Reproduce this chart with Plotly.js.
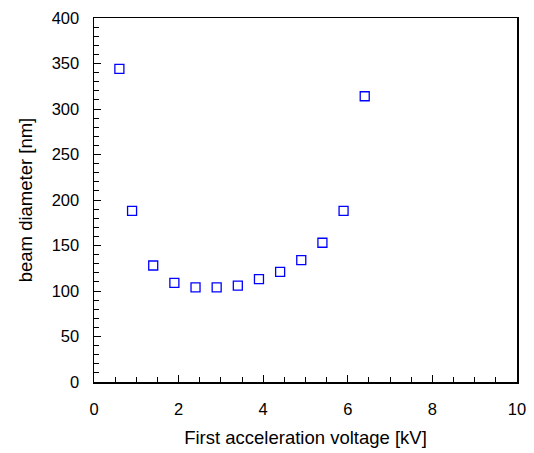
<!DOCTYPE html>
<html>
<head>
<meta charset="utf-8">
<script src="https://cdn.plot.ly/plotly-3.0.1.min.js"></script>
<style>html,body{margin:0;padding:0;background:#fff;}#chart{width:534px;height:453px;}</style>
</head>
<body>
<div id="chart"></div>
<script>
var voltage = [0.6, 0.9, 1.4, 1.9, 2.4, 2.9, 3.4, 3.9, 4.4, 4.9, 5.4, 5.9, 6.4];
var diameter = [344, 188, 128, 109, 104, 104, 106, 113, 121, 134, 153, 188, 314];
var xTitle = 'First acceleration voltage [kV]';
var yTitle = 'beam diameter [nm]';

var FONT = 'Liberation Sans, Arial, sans-serif';

var trace = {
  x: voltage,
  y: diameter,
  type: 'scatter',
  mode: 'markers',
  marker: {symbol: 'square-open', size: 9, color: '#0000ff', line: {width: 1.3, color: '#0000ff'}},
  showlegend: false,
  hoverinfo: 'x+y'
};

var layout = {
  width: 534, height: 453,
  margin: {l: 94, r: 17, t: 18, b: 71},
  paper_bgcolor: '#ffffff',
  plot_bgcolor: '#ffffff',
  font: {family: FONT, size: 16.5, color: '#000000'},
  xaxis: {
    range: [0, 10], dtick: 2, tick0: 0,
    ticks: 'inside', ticklen: 7, tickwidth: 1, tickcolor: '#000',
    minor: {dtick: 0.5, ticks: 'inside', ticklen: 5, tickwidth: 1, tickcolor: '#000'},
    showline: true, linecolor: '#000', linewidth: 1.5, mirror: true,
    showgrid: false, zeroline: false,
    ticklabelstandoff: 12,
    title: {text: xTitle, font: {family: FONT, size: 18.5}, standoff: 14}
  },
  yaxis: {
    range: [0, 400], dtick: 50, tick0: 0,
    ticks: 'inside', ticklen: 7, tickwidth: 1, tickcolor: '#000',
    minor: {dtick: 10, ticks: 'inside', ticklen: 5, tickwidth: 1, tickcolor: '#000'},
    showline: true, linecolor: '#000', linewidth: 1.5, mirror: true,
    showgrid: false, zeroline: false,
    ticklabelstandoff: 10,
    title: {text: yTitle, font: {family: FONT, size: 18.5}, standoff: 14}
  }
};

Plotly.newPlot('chart', [trace], layout, {displayModeBar: false, staticPlot: true});
</script>
</body>
</html>
